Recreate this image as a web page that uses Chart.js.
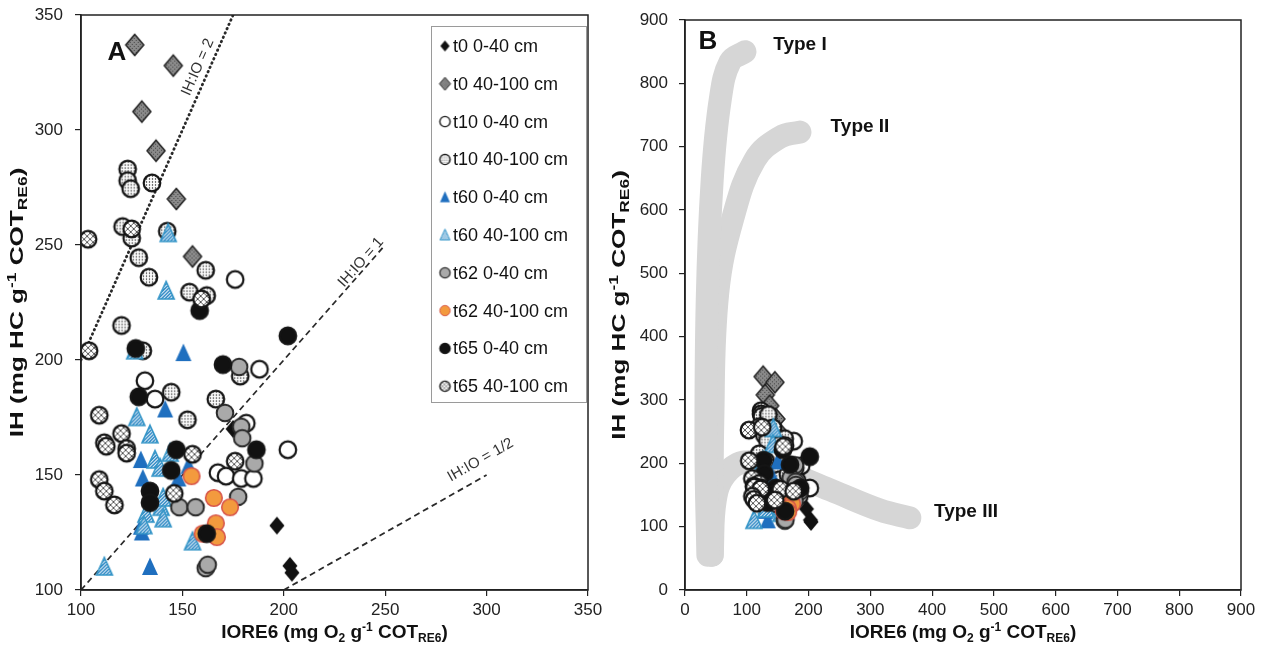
<!DOCTYPE html>
<html lang="en">
<head>
<meta charset="UTF-8">
<title>IH vs IORE6</title>
<script src="https://cdn.jsdelivr.net/npm/chart.js"></script>
<style>
  body { margin: 0; background: #fff; }
  #wrap { position: relative; width: 1270px; height: 655px; }
  #chartA { position: absolute; left: 0; top: 0; }
  #chartB { position: absolute; left: 605px; top: 0; }
</style>
</head>
<body>
<div id="wrap">
  <canvas id="chartA" width="605" height="655"></canvas>
  <canvas id="chartB" width="665" height="655"></canvas>
</div>
<script>

// series: [IORE6, IH]
const seriesNames = ['t0 0-40 cm', 't0 40-100 cm', 't10 0-40 cm', 't10 40-100 cm', 't60 0-40 cm',
  't60 40-100 cm', 't62 0-40 cm', 't62 40-100 cm', 't65 0-40 cm', 't65 40-100 cm'];

const t0_shallow = [[196.6,128],[203,110.5],[204,107.5],[175,170]];
const t0_deep = [[126.5,337],[145.5,328],[130,308],[137,291],[147,270],[155,245]];
const t10_shallow = [[176,235],[188,196],[131.5,191],[136.5,183],[181.5,172.5],[202,161],[167.5,151],[171.5,149.5],[179,148.5],[185,148.5]];
const t10_deep = [[123,283],[123,278],[124.5,274.5],[135,277],[120.5,258],[125,253],[128.5,244.5],[133.5,236],[142.5,256],
  [161.5,239],[153.5,229.5],[162,228],[120,215],[144.5,186],[152.5,174],[166.5,183],[178.5,193],[130.5,204]];
const t60_shallow = [[150.5,203],[141.5,178.5],[129.5,156.5],[130.5,148.5],[129.5,127.5],[130,125],[134,110],[153,154],[148,148.5]];
const t60_deep = [[143,255],[142,230],[126.5,204],[127.5,175],[134,167.5],[136.5,156.5],[139,153],[144,159.5],[139.5,136],
  [140.5,131],[132,133],[131,128],[155,121],[111.5,110],[140.5,140]];
const t62_shallow = [[178,197],[171,177],[179,171],[179.5,166],[185.5,155],[177.5,140.5],[148.5,136],[156.5,136],[161.5,109.5],[162.5,111]];
const t62_deep = [[154.5,149.5],[165.5,140],[173.5,136],[166.5,129],[160,124.5],[167,123]];
const t65_shallow = [[202,210.5],[127,205],[170,198],[128.5,184],[158.5,221.5],[147,161],[186.5,161],[144.5,152],[134,143],[134,138],[162,124.5]];
const t65_deep = [[103.5,252.5],[125,257],[159.5,226.5],[104,204],[109,176],[120,168],[111.5,164],[122.5,161.5],[112.5,162.5],
  [122.5,159.5],[155,159],[176,156],[109,148],[111.5,143],[116.5,137],[146,142]];

const allSeries = [t0_shallow, t0_deep, t10_shallow, t10_deep, t60_shallow, t60_deep, t62_shallow, t62_deep, t65_shallow, t65_deep];
const markerKinds = ['diamondBlack', 'diamondGray', 'circleWhite', 'circleDots', 'triBlue', 'triHatch', 'circleGray', 'circleOrange', 'circleBlack', 'circleCross'];

// IH:IO ratio lines (panel A)
const ratio2 = [[100,200],[175,350]];
const ratio1 = [[100,100],[250,250]];
const ratioHalf = [[200,100],[300,150]];
const ratioLabels = ['IH:IO = 2', 'IH:IO = 1', 'IH:IO = 1/2'];
const ratioLabelAt = [[157.6,327.3],[238,242.5],[297,156.5]];

// kerogen type bands (panel B)
const typeI = [[37,55],[34,221],[36,458],[44,647],[57,774],[73,834],[97,850]];
const typeII = [[44,55],[45,268],[53,469],[78,589],[113,679],[154,715],[186,723]];
const typeIII = [[44,55],[49,142],[65,182],[97,202],[154,189],[235,158],[316,126],[364,114]];
const typeLabels = ['Type I', 'Type II', 'Type III'];

const ticksA = [100, 150, 200, 250, 300, 350];
const ticksB = [0, 100, 200, 300, 400, 500, 600, 700, 800, 900];

const FONT = "'Liberation Sans', Arial, sans-serif";
Chart.defaults.font.family = FONT;

function makeMarker(kind, s) {
  const size = Math.ceil(26 * s);
  const c = document.createElement('canvas');
  c.width = size; c.height = size;
  const ctx = c.getContext('2d');
  ctx.translate(size / 2, size / 2);
  ctx.scale(s, s);
  const shape = () => {
    ctx.beginPath();
    if (kind === 'diamondBlack') {
      ctx.moveTo(0, -9); ctx.lineTo(7.5, 0); ctx.lineTo(0, 9); ctx.lineTo(-7.5, 0);
    } else if (kind === 'diamondGray') {
      ctx.moveTo(0, -10.5); ctx.lineTo(9, 0); ctx.lineTo(0, 10.5); ctx.lineTo(-9, 0);
    } else if (kind.startsWith('tri')) {
      ctx.moveTo(0, -9.5); ctx.lineTo(8, 8); ctx.lineTo(-8, 8);
    } else {
      ctx.arc(0, 0, 8.3, 0, Math.PI * 2);
    }
    ctx.closePath();
  };
  const fills = {
    diamondBlack: '#111', diamondGray: '#8a8a8a', circleWhite: '#fff', circleDots: '#fff',
    triBlue: '#1f6fbf', triHatch: '#fff', circleGray: '#a9a9a9', circleOrange: '#f39a3e',
    circleBlack: '#111', circleCross: '#fff'
  };
  shape();
  ctx.fillStyle = fills[kind];
  ctx.fill();
  // patterns
  ctx.save();
  shape();
  ctx.clip();
  if (kind === 'diamondGray') {
    ctx.fillStyle = '#444';
    for (let x = -11; x <= 11; x += 2) for (let y = -11; y <= 11; y += 2) {
      if ((x + y) % 4 === 0) ctx.fillRect(x, y, 1, 1);
    }
  } else if (kind === 'circleDots') {
    ctx.fillStyle = '#222';
    for (let x = -10; x <= 10; x += 3) for (let y = -10; y <= 10; y += 3) {
      ctx.beginPath(); ctx.arc(x + ((y / 3) % 2 ? 1.5 : 0), y, 0.75, 0, Math.PI * 2); ctx.fill();
    }
  } else if (kind === 'triHatch') {
    ctx.strokeStyle = '#2a86c4'; ctx.lineWidth = 1.5;
    for (let k = -24; k <= 24; k += 3.4) {
      ctx.beginPath(); ctx.moveTo(k - 12, 12); ctx.lineTo(k + 12, -12); ctx.stroke();
    }
  } else if (kind === 'circleCross') {
    ctx.strokeStyle = '#555'; ctx.lineWidth = 1;
    for (let k = -16; k <= 16; k += 6) {
      ctx.beginPath(); ctx.moveTo(k - 12, 12); ctx.lineTo(k + 12, -12); ctx.stroke();
      ctx.beginPath(); ctx.moveTo(k - 12, -12); ctx.lineTo(k + 12, 12); ctx.stroke();
    }
  }
  ctx.restore();
  // outlines
  shape();
  if (kind === 'diamondGray') { ctx.strokeStyle = '#222'; ctx.lineWidth = 1.5; ctx.stroke(); }
  else if (kind === 'triHatch') { ctx.strokeStyle = '#3596c8'; ctx.lineWidth = 1.6; ctx.stroke(); }
  else if (kind === 'circleOrange') { ctx.strokeStyle = '#d8564a'; ctx.lineWidth = 1.6; ctx.stroke(); }
  else if (kind === 'circleGray') { ctx.strokeStyle = '#2a2a2a'; ctx.lineWidth = 2; ctx.stroke(); }
  else if (kind.startsWith('circle')) { ctx.strokeStyle = '#151515'; ctx.lineWidth = 2.2; ctx.stroke(); }
  return c;
}

const bigMarkers = markerKinds.map(k => makeMarker(k, 1));
const smallMarkers = markerKinds.map(k => makeMarker(k, 0.62));

function toXY(arr) { return arr.map(p => ({ x: p[0], y: p[1] })); }

function pointSets() {
  return allSeries.map((arr, i) => ({
    label: seriesNames[i],
    data: toXY(arr),
    pointStyle: bigMarkers[i],
    pointRadius: 8,
    pointHoverRadius: 8,
    showLine: false,
    order: 20 - i
  }));
}

// text with sub/superscripts, centred on (x, y); stretch widens along the text direction
function drawRich(ctx, parts, x, y, size, angle, stretch) {
  ctx.save();
  ctx.translate(x, y);
  if (angle) ctx.rotate(angle);
  if (stretch) ctx.scale(stretch, 1);
  ctx.fillStyle = '#111';
  ctx.textBaseline = 'middle';
  ctx.textAlign = 'left';
  const small = Math.round(size * 0.64);
  let total = 0;
  const widths = parts.map(p => {
    ctx.font = 'bold ' + (p[1] ? small : size) + 'px ' + FONT;
    const w = ctx.measureText(p[0]).width;
    total += w;
    return w;
  });
  let cx = -total / 2;
  parts.forEach((p, i) => {
    ctx.font = 'bold ' + (p[1] ? small : size) + 'px ' + FONT;
    const dy = p[1] === 'sub' ? size * 0.32 : p[1] === 'sup' ? -size * 0.3 : 0;
    ctx.fillText(p[0], cx, dy);
    cx += widths[i];
  });
  ctx.restore();
}

const xTitle = [['IORE6 (mg O', ''], ['2', 'sub'], [' g', ''], ['-1', 'sup'], [' COT', ''], ['RE6', 'sub'], [')', '']];
const yTitle = [['IH (mg HC g', ''], ['-1', 'sup'], [' COT', ''], ['RE6', 'sub'], [')', '']];

function scaleOpts(min, max, ticks, pad, fit) {
  return {
    type: 'linear', min: min, max: max,
    afterBuildTicks: s => { s.ticks = ticks.map(v => ({ value: v })); },
    ticks: { color: '#222', font: { size: 17 }, padding: pad },
    grid: { drawOnChartArea: false, drawTicks: true, tickLength: 6, color: '#222', lineWidth: 1.2 },
    border: { display: true, color: '#222', width: 1.5 },
    afterFit: fit
  };
}

// fixed axis box sizes, so the plot area sits where the layout padding says
function fixY(w) { return s => { s.width = w; s.paddingTop = 0; s.paddingBottom = 0; }; }
function fixX(h) { return s => { s.height = h; s.paddingLeft = 0; s.paddingRight = 0; }; }

const framePlugin = {
  id: 'frame',
  afterDraw(chart) {
    const { ctx, chartArea: a } = chart;
    const isA = chart.canvas.id === 'chartA';
    ctx.save();
    ctx.strokeStyle = '#222';
    ctx.lineWidth = 1.5;
    ctx.strokeRect(a.left, a.top, a.right - a.left, a.bottom - a.top);
    ctx.restore();
    drawRich(ctx, xTitle, (a.left + a.right) / 2, 633, 19, 0, 1);
    drawRich(ctx, yTitle, isA ? 18 : 15, (a.top + a.bottom) / 2, 18, -Math.PI / 2, 1.45);
  }
};

// ---------- panel A ----------
const lineStyle = { showLine: true, pointRadius: 0, pointHoverRadius: 0, fill: false, borderColor: '#2a2a2a' };

new Chart(document.getElementById('chartA'), {
  type: 'scatter',
  data: {
    datasets: [
      Object.assign({ label: ratioLabels[0], data: toXY(ratio2), borderWidth: 2.8, borderDash: [0.5, 4.2], borderCapStyle: 'round', order: 50 }, lineStyle),
      Object.assign({ label: ratioLabels[1], data: toXY(ratio1), borderWidth: 1.8, borderDash: [6, 4], order: 50 }, lineStyle),
      Object.assign({ label: ratioLabels[2], data: toXY(ratioHalf), borderWidth: 1.8, borderDash: [6, 4], order: 50 }, lineStyle)
    ].concat(pointSets())
  },
  options: {
    responsive: false,
    animation: false,
    layout: { padding: { left: 0, top: 15, right: 17, bottom: 0 } },
    plugins: { legend: { display: false }, tooltip: { enabled: false } },
    scales: {
      x: scaleOpts(100, 350, ticksA, 4, fixX(65)),
      y: scaleOpts(100, 350, ticksA, 12, fixY(81))
    }
  },
  plugins: [framePlugin, {
    id: 'extrasA',
    afterDraw(chart) {
      const { ctx, chartArea: a, scales: { x, y } } = chart;
      ctx.save();
      ctx.fillStyle = '#111';
      ctx.font = 'bold 26px ' + FONT;
      ctx.textAlign = 'center';
      ctx.textBaseline = 'middle';
      ctx.fillText('A', a.left + 36, a.top + 38);
      // ratio line labels
      const lines = [ratio2, ratio1, ratioHalf];
      ctx.font = '15px ' + FONT;
      ctx.fillStyle = '#333';
      lines.forEach((ln, i) => {
        const ang = Math.atan2(y.getPixelForValue(ln[1][1]) - y.getPixelForValue(ln[0][1]),
          x.getPixelForValue(ln[1][0]) - x.getPixelForValue(ln[0][0]));
        ctx.save();
        ctx.translate(x.getPixelForValue(ratioLabelAt[i][0]), y.getPixelForValue(ratioLabelAt[i][1]));
        ctx.rotate(ang);
        ctx.fillText(ratioLabels[i], 0, 0);
        ctx.restore();
      });
      // legend
      ctx.fillStyle = '#fff';
      ctx.fillRect(431, 26, 155, 376);
      ctx.strokeStyle = '#9a9a9a';
      ctx.lineWidth = 1;
      ctx.strokeRect(431.5, 26.5, 155, 376);
      ctx.font = '18px ' + FONT;
      ctx.fillStyle = '#111';
      ctx.textAlign = 'left';
      seriesNames.forEach((name, i) => {
        const cy = 46 + i * 37.8;
        const m = smallMarkers[i];
        ctx.drawImage(m, 445 - m.width / 2, cy - m.height / 2);
        ctx.fillText(name, 453, cy + 1);
      });
      ctx.restore();
    }
  }]
});

// ---------- panel B ----------
const bandStyle = { showLine: true, pointRadius: 0, pointHoverRadius: 0, fill: false, borderColor: 'rgb(214,214,214)',
  borderWidth: 23, borderCapStyle: 'round', borderJoinStyle: 'round', tension: 0.4, order: 100, clip: false };

new Chart(document.getElementById('chartB'), {
  type: 'scatter',
  data: {
    datasets: [
      Object.assign({ label: typeLabels[0], data: toXY(typeI) }, bandStyle),
      Object.assign({ label: typeLabels[1], data: toXY(typeII) }, bandStyle),
      Object.assign({ label: typeLabels[2], data: toXY(typeIII) }, bandStyle)
    ].concat(pointSets())
  },
  options: {
    responsive: false,
    animation: false,
    layout: { padding: { left: 0, top: 20, right: 29, bottom: 0 } },
    plugins: { legend: { display: false }, tooltip: { enabled: false } },
    scales: {
      x: scaleOpts(0, 900, ticksB, 4, fixX(65)),
      y: scaleOpts(0, 900, ticksB, 11, fixY(80))
    }
  },
  plugins: [framePlugin, {
    id: 'extrasB',
    afterDraw(chart) {
      const { ctx, chartArea: a } = chart;
      ctx.save();
      ctx.fillStyle = '#111';
      ctx.textAlign = 'center';
      ctx.textBaseline = 'middle';
      ctx.font = 'bold 26px ' + FONT;
      ctx.fillText('B', a.left + 23, a.top + 22);
      ctx.font = 'bold 19px ' + FONT;
      ctx.fillText(typeLabels[0], a.left + 115, 45);
      ctx.fillText(typeLabels[1], a.left + 175, 127);
      ctx.fillText(typeLabels[2], a.left + 281, 512);
      ctx.restore();
    }
  }]
});
</script>
</body>
</html>
